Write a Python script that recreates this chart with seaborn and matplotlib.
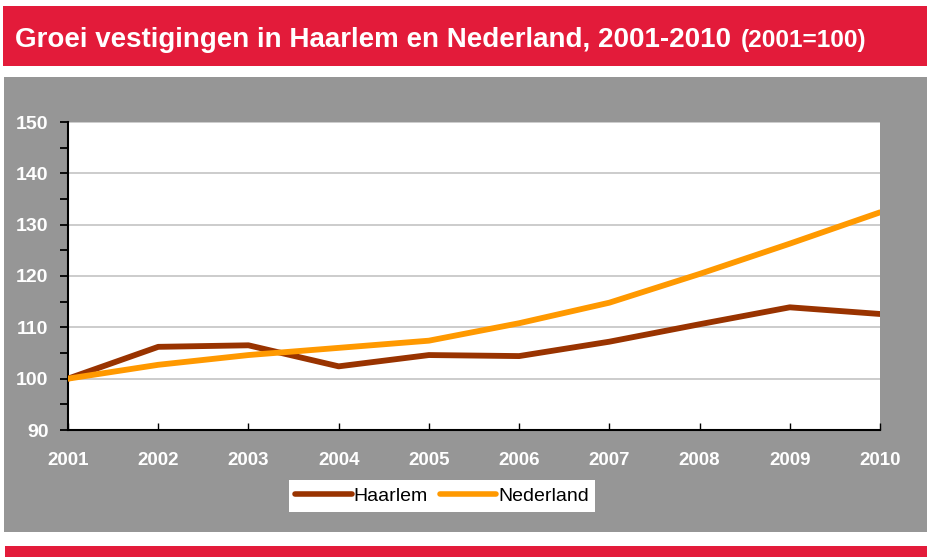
import matplotlib
matplotlib.use("Agg")
import matplotlib.pyplot as plt
import seaborn as sns
import pandas as pd
from matplotlib.patches import Rectangle
from matplotlib.ticker import MultipleLocator
from matplotlib.lines import Line2D

years = [2001, 2002, 2003, 2004, 2005, 2006, 2007, 2008, 2009, 2010]
haarlem = [100.0, 106.2, 106.5, 102.4, 104.6, 104.4, 107.2, 110.6, 113.9, 112.6]
nederland = [100.0, 102.7, 104.6, 106.0, 107.4, 110.8, 114.8, 120.4, 126.3, 132.4]
series_names = ["Haarlem", "Nederland"]
colors = ["#993300", "#FF9900"]
title_main = "Groei vestigingen in Haarlem en Nederland, 2001-2010"
title_sub = "(2001=100)"

df = pd.DataFrame({
    "jaar": years * 2,
    "waarde": haarlem + nederland,
    "reeks": [series_names[0]] * len(years) + [series_names[1]] * len(years),
})

sns.set_theme(style="white")
plt.rcParams["font.family"] = ["Liberation Sans", "DejaVu Sans"]

W, H = 928, 557
fig = plt.figure(figsize=(W / 100, H / 100), dpi=100)
fig.patch.set_facecolor("white")

def box(x0, y0, x1, y1, color):
    fig.patches.append(Rectangle((x0 / W, 1 - y1 / H), (x1 - x0) / W, (y1 - y0) / H,
                                 transform=fig.transFigure, facecolor=color,
                                 edgecolor="none", zorder=-5))

red = "#E31B3A"
gray = "#969696"
box(3, 6, 928, 66, red)
box(4, 77, 928, 532, gray)
box(5, 546, 928, 557, red)

fig.text(15 / W, 1 - 47 / H, title_main, color="white", fontsize=20,
         fontweight="bold", va="baseline", ha="left")
fig.text(741 / W, 1 - 47 / H, title_sub, color="white", fontsize=17.6,
         fontweight="bold", va="baseline", ha="left")

left, right, top, bottom = 68, 880, 122, 430
ax = fig.add_axes([left / W, 1 - bottom / H, (right - left) / W, (bottom - top) / H])
ax.set_facecolor("white")
ax.set_zorder(2)

sns.lineplot(data=df, x="jaar", y="waarde", hue="reeks", palette=colors,
             linewidth=4.2, ax=ax, legend=False, zorder=3)

ax.set_xlim(2001, 2010)
ax.set_ylim(90, 150)
ax.set_xticks(years)
ax.set_xticklabels([str(y) for y in years])
ax.yaxis.set_major_locator(MultipleLocator(10))
ax.yaxis.set_minor_locator(MultipleLocator(5))
ax.grid(axis="y", which="major", color="#C8C8C8", linewidth=1.3, zorder=1)
ax.set_axisbelow(True)
ax.set_xlabel("")
ax.set_ylabel("")

for s in ["top", "right"]:
    ax.spines[s].set_visible(False)
for s in ["left", "bottom"]:
    ax.spines[s].set_visible(True)
    ax.spines[s].set_color("black")
    ax.spines[s].set_linewidth(1.5)

ax.tick_params(axis="y", which="both", direction="out", length=6, width=1.3,
               color="black", left=True, labelcolor="white", labelsize=14, pad=8)
ax.tick_params(axis="x", which="major", direction="in", length=5, width=1,
               color="black", bottom=True, labelcolor="white", labelsize=13.5, pad=16)
for lab in ax.get_xticklabels() + ax.get_yticklabels():
    lab.set_fontweight("bold")

handles = [Line2D([0], [0], color=c, lw=4, solid_capstyle="round") for c in colors]
leg = fig.legend(handles, series_names, loc="center",
                 bbox_to_anchor=(442 / W, 1 - 496 / H), ncol=2, frameon=True,
                 fancybox=False, fontsize=14, handlelength=2.9, handletextpad=0.1,
                 columnspacing=0.6, borderpad=0.35, borderaxespad=0, framealpha=1)
leg.get_frame().set_facecolor("white")
leg.get_frame().set_edgecolor("white")
leg.get_frame().set_linewidth(0)
for t in leg.get_texts():
    t.set_color("black")

fig.savefig("out.png", dpi=100, facecolor="white")
